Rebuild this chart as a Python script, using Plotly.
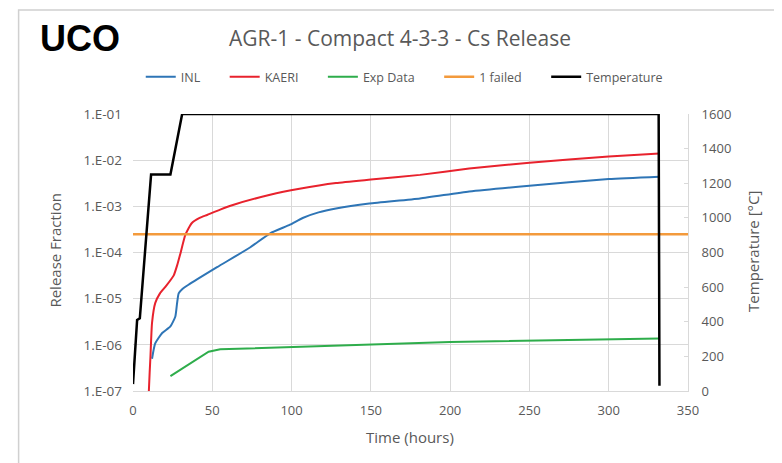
import plotly.graph_objects as go

# Release fraction curves (hours vs fraction)
inl_t = [12, 14, 18.4, 23.6, 26.7, 27.8, 28.8, 31, 35, 53, 74, 86.5, 99, 107, 117, 128, 149, 181, 212,
         250, 300, 332]
inl_y = [5e-7, 1.07e-6, 1.8e-6, 2.5e-6, 4.1e-6, 8e-6, 1.3e-5, 1.6e-5, 2e-5, 4.8e-5, 1.3e-4, 2.6e-4,
         4e-4, 5.6e-4, 7.4e-4, 9e-4, 1.15e-3, 1.48e-3, 2.1e-3, 2.8e-3, 3.9e-3, 4.4e-3]

kaeri_t = [10, 10.5, 11, 12, 14, 17, 20.4, 25.7, 28, 30, 33, 37, 42, 46.7, 55, 63, 86.5, 105, 128,
           150, 181, 212, 250, 300, 332]
kaeri_y = [1e-7, 2.5e-7, 5.5e-7, 3e-6, 8e-6, 1.3e-5, 1.8e-5, 3.2e-5, 5.5e-5, 9.8e-5, 2.4e-4, 4.3e-4,
           5.6e-4, 6.5e-4, 8.5e-4, 1.07e-3, 1.78e-3, 2.4e-3, 3.2e-3, 3.8e-3, 4.8e-3, 6.6e-3, 8.8e-3,
           1.2e-2, 1.4e-2]

exp_t = [23.6, 47.7, 55, 105, 200, 332]
exp_y = [2.1e-7, 7.1e-7, 8e-7, 9.1e-7, 1.15e-6, 1.38e-6]

failed_t = [0, 350]
failed_y = [2.5e-4, 2.5e-4]

# Temperature history (°C)
temp_t = [0, 2.6, 4.3, 11.4, 23.6, 31, 331.5, 332]
temp_c = [40, 410, 420, 1250, 1250, 1600, 1600, 30]

y_ticks = [1e-7, 1e-6, 1e-5, 1e-4, 1e-3, 1e-2, 1e-1]
y_ticktext = ['1.E-07', '1.E-06', '1.E-05', '1.E-04', '1.E-03', '1.E-02', '1.E-01']

font = 'Open Sans'
gray = '#595959'
grid = '#D9D9D9'
sp = '\u00a0' * 6

fig = go.Figure()
fig.add_trace(go.Scatter(x=inl_t, y=inl_y, name='INL' + sp, mode='lines',
                         line=dict(color='#2E75B6', width=2, shape='spline', smoothing=0.5)))
fig.add_trace(go.Scatter(x=kaeri_t, y=kaeri_y, name='KAERI' + sp, mode='lines',
                         line=dict(color='#E8222D', width=2, shape='spline', smoothing=0.5)))
fig.add_trace(go.Scatter(x=exp_t, y=exp_y, name='Exp Data' + sp, mode='lines',
                         line=dict(color='#2EAD4B', width=2)))
fig.add_trace(go.Scatter(x=failed_t, y=failed_y, name='1 failed' + sp, mode='lines',
                         line=dict(color='#F39A3C', width=2.5)))
fig.add_trace(go.Scatter(x=temp_t, y=temp_c, name='Temperature', mode='lines', yaxis='y2',
                         line=dict(color='black', width=2.5)))

# page has an 8px body margin; plot area should land on 132.5..688 x 114..391 of the screen
off = 8
pw, ph = 555.5, 277.0
W, H = 782 - off, 463 - off

def px(x):
    return (x - 132.5) / pw

def py(y):
    return (391 - y) / ph

fig.update_layout(
    width=W, height=H,
    margin=dict(l=132.5 - off, r=W - (688 - off), t=114 - off, b=H - (391 - off)),
    paper_bgcolor='white', plot_bgcolor='white',
    font=dict(family=font, color=gray, size=13),
    title=dict(text='AGR-1 - Compact 4-3-3 - Cs Release', x=(400 - off) / W, xanchor='center',
               y=1 - (39 - off) / H, yanchor='middle', font=dict(size=21, color=gray)),
    showlegend=True,
    legend=dict(orientation='h', x=px(404), xanchor='center', y=py(77), yanchor='middle',
                font=dict(size=12.5, color=gray), itemwidth=30, tracegroupgap=0),
    xaxis=dict(range=[0, 350], dtick=50, showgrid=True, gridcolor=grid, zeroline=False,
               showline=True, linecolor=grid, ticks='', ticklabelstandoff=7,
               tickfont=dict(size=13, color=gray)),
    yaxis=dict(type='log', range=[-7, -1], tickvals=y_ticks, ticktext=y_ticktext,
               showgrid=True, gridcolor=grid, zeroline=False, showline=False,
               ticks='', ticklabelstandoff=10, tickfont=dict(size=13.5, color=gray)),
    yaxis2=dict(overlaying='y', side='right', range=[0, 1600], dtick=200, showgrid=False,
                zeroline=False, showline=True, linecolor=grid, ticks='inside', ticklen=4,
                tickcolor=grid, ticklabelstandoff=10, tickfont=dict(size=13, color=gray)),
    shapes=[dict(type='rect', xref='paper', yref='paper', x0=px(18), x1=px(820),
                 y0=py(500), y1=py(10), line=dict(color='#D0D0D0', width=1.5), layer='below')],
    annotations=[
        dict(text='<b>UCO</b>', x=px(37), y=py(39), xref='paper', yref='paper', xanchor='left',
             yanchor='middle', showarrow=False,
             font=dict(family='Liberation Sans', size=36, color='black')),
        dict(text='Release Fraction', x=px(54), y=py(251), xref='paper', yref='paper',
             xanchor='center', yanchor='middle', textangle=-90, showarrow=False,
             font=dict(size=15, color=gray)),
        dict(text='Temperature [°C]', x=px(753), y=py(251), xref='paper', yref='paper',
             xanchor='center', yanchor='middle', textangle=-90, showarrow=False,
             font=dict(size=15, color=gray)),
        dict(text='Time (hours)', x=px(410), y=py(437), xref='paper', yref='paper',
             xanchor='center', yanchor='middle', showarrow=False, font=dict(size=15, color=gray)),
    ],
)

fig.write_html('out.html')
